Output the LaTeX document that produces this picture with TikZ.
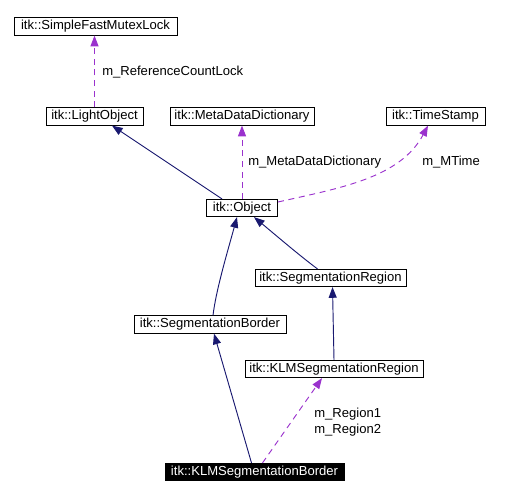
\documentclass[tikz,border=0pt]{standalone}
\usepackage{fontspec}
\setmainfont{Liberation Sans}
\usetikzlibrary{arrows.meta,calc}
\definecolor{navy}{RGB}{25,25,112}
\definecolor{orchid}{RGB}{154,50,205}
\begin{document}
\begin{tikzpicture}[x=0.75pt,y=-0.75pt,
 cls/.style={draw=black, line width=0.75pt, fill=white, font=\fontsize{9.8}{11}\selectfont, inner sep=0pt, minimum height=12.9pt},
 bw/.style={minimum width=#1*0.75pt},
 cur/.style={cls, fill=black, text=white},
 inh/.style={draw=navy, line width=0.7pt, -{Triangle[length=8pt,width=6pt]}},
 use/.style={draw=orchid, line width=0.7pt, dash pattern=on 4.5pt off 3.5pt, -{Triangle[length=8pt,width=6pt]}},
 lbl/.style={font=\fontsize{9.8}{12}\selectfont, anchor=west, inner sep=0pt, align=left}]
\useasboundingbox (0,0) rectangle (518,497);

\node[cls, bw=163] (sfml) at (95.5,26.5) {itk::SimpleFastMutexLock};
\node[cls, bw=97] (lo) at (94.5,116.5) {itk::LightObject};
\node[cls, bw=144] (mdd) at (242,116.5) {itk::MetaDataDictionary};
\node[cls, bw=99] (ts) at (435.5,116.5) {itk::TimeStamp};
\node[cls, bw=71] (obj) at (242,208) {itk::Object};
\node[cls, bw=151] (sr) at (330.5,278) {itk::SegmentationRegion};
\node[cls, bw=152] (sb) at (210,324.5) {itk::SegmentationBorder};
\node[cls, bw=178] (ksr) at (334,369) {itk::KLMSegmentationRegion};
\node[cur, bw=179] (ksb) at (254.5,472) {itk::KLMSegmentationBorder};

\draw[use] (lo.north) -- (lo.north |- sfml.south);
\node[lbl] (l1) at (102,72) {m\_ReferenceCountLock};

\draw[inh] ($(obj.north)+(-20,0)$) -- ($(lo.south)+(17.5,0)$);

\draw[use] (obj.north) -- (mdd.south);
\node[lbl] (l2) at (248,162) {m\_MetaDataDictionary};

\draw[use] ($(obj.east)+(0,-6)$) .. controls (340,188) and (400,178) .. ($(ts.south)+(-7.5,0)$);
\node[lbl] (l3) at (422,162) {m\_MTime};

\draw[inh] ($(sr.north)+(-13,0)$) .. controls (300,256) and (272,232) .. ($(obj.south)+(12,0)$);
\draw[inh] ($(sb.north)+(3,0)$) .. controls (216,290) and (228,250) .. ($(obj.south)+(-5,0)$);

\draw[inh] (ksr.north) -- ($(sr.south)+(2,0)$);
\draw[inh] ($(ksb.north)+(-3,0)$) -- ($(sb.south)+(4,0)$);

\draw[use] ($(ksb.north)+(8,0)$) -- ($(ksr.south)+(-12,0)$);
\node[lbl] (l4) at (314,422.5) {m\_Region1\\m\_Region2};
\end{tikzpicture}
\end{document}
